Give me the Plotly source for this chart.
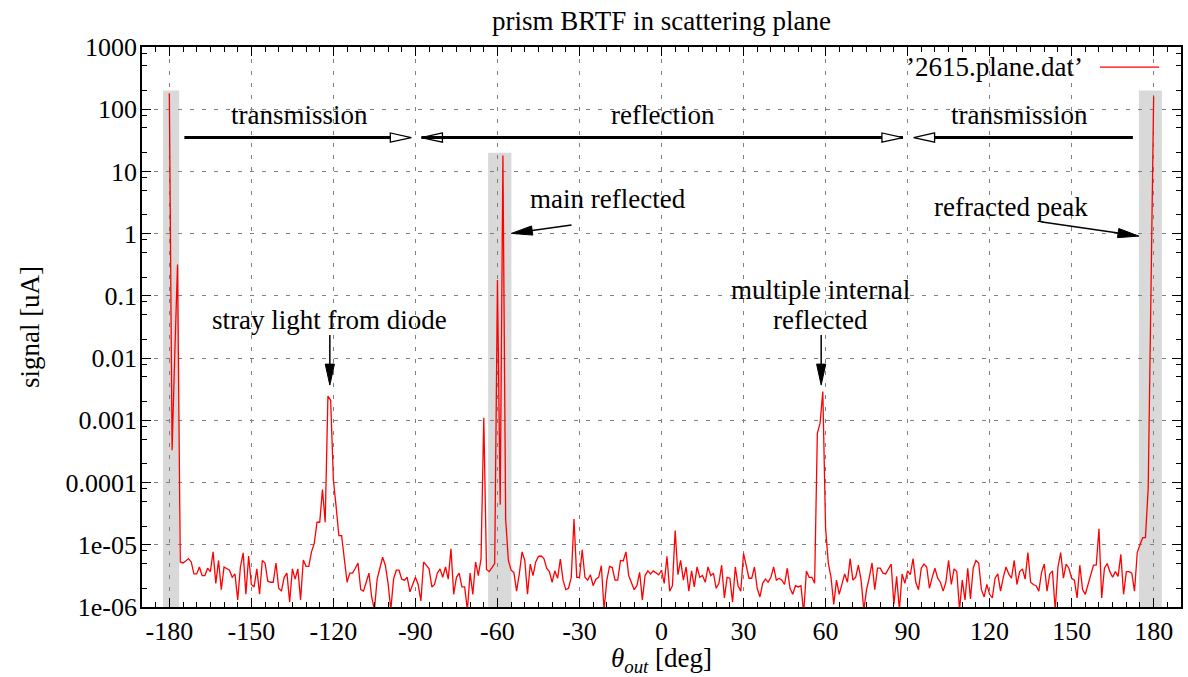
import math
import plotly.graph_objects as go

# ---------------- data ----------------
theta = list(range(-180, 181))  # measurement grid, 1 deg steps
signal = [
    180, 3.3e-4, 0.012, 0.32, 5.3e-6, 5.1e-6, 5.5e-6, 6.0e-6, 5.3e-6, 3.4e-6,            # -180..-171
    3.4e-6, 4.4e-6, 3.2e-6, 3.2e-6, 4.2e-6, 3.7e-6, 7.7e-6, 2.4e-6, 5.6e-6, 1.9e-6,      # -170..-161
    4.4e-6, 4.2e-6, 3.9e-6, 3.0e-6, 3.4e-6, 1.3e-6, 4.4e-6, 7.4e-6, 1.6e-6, 6.6e-6,      # -160..-151
    2.3e-6, 2.1e-6, 4.1e-6, 1.6e-6, 5.6e-6, 5.1e-6, 2.6e-6, 2.5e-6, 2.5e-6, 5.1e-6,      # -150..-141
    2.0e-6, 1.8e-6, 3.0e-6, 3.5e-6, 1.2e-6, 4.1e-6, 2.8e-6, 4.1e-6, 1.3e-6, 5.7e-6,      # -140..-131
    4.5e-6, 4.5e-6, 7.7e-6, 1.05e-5, 2.3e-5, 2.3e-5, 7.7e-5, 2.3e-5, 2.45e-3, 2.1e-3,    # -130..-121
    1.1e-4, 4.1e-5, 1.4e-5, 1.4e-5, 5.6e-6, 2.5e-6, 3.5e-6, 3.5e-6, 4.2e-6, 5.1e-6,      # -120..-111
    1.9e-6, 1.8e-6, 2.5e-6, 3.5e-6, 1.45e-6, 9e-7, 2.8e-6, 4.4e-6, 6.3e-6, 4.7e-6,       # -110..-101
    2.4e-6, 9e-7, 2.8e-6, 3.9e-6, 3.9e-6, 2.8e-6, 2.7e-6, 3.0e-6, 1.75e-6, 2.3e-6,       # -100..-91
    3.0e-6, 2.3e-6, 1.25e-6, 5.3e-6, 4.7e-6, 4.1e-6, 2.1e-6, 2.3e-6, 3.5e-6, 4.1e-6,     # -90..-81
    3.0e-6, 4.4e-6, 2.8e-6, 8.6e-6, 1.6e-6, 3.0e-6, 3.5e-6, 2.1e-6, 2.1e-6, 9e-7,        # -80..-71
    3.5e-6, 1.6e-6, 5.3e-6, 3.2e-6, 6e-6, 1.1e-3, 4e-6, 3.7e-6, 4.3e-6, 5e-6,            # -70..-61
    0.18, 4.4e-5, 18, 2.6e-5, 5.6e-6, 3.9e-6, 3.6e-6, 1.8e-6, 3.4e-6, 7.7e-6,            # -60..-51
    5.6e-6, 1.6e-6, 4.9e-6, 3.2e-6, 5.3e-6, 6.5e-6, 6.6e-6, 6.0e-6, 4.2e-6, 3.7e-6,      # -50..-41
    2.5e-6, 3.8e-6, 2.9e-6, 5.9e-6, 2.7e-6, 1.9e-6, 2.0e-6, 3.0e-6, 2.6e-5, 3.0e-6,      # -40..-31
    3.0e-6, 8.3e-6, 3.0e-6, 2.7e-6, 3.3e-6, 2.2e-6, 2.8e-6, 3.0e-6, 4.6e-6, 9e-7,        # -30..-21
    2.7e-6, 4.5e-6, 4.3e-6, 2.7e-6, 2.7e-6, 5.6e-6, 5.5e-6, 7.7e-6, 3.2e-6, 2.4e-6,      # -20..-11
    1.9e-6, 2.2e-6, 3.6e-6, 1.3e-6, 3.2e-6, 3.8e-6, 3.4e-6, 3.8e-6, 3.5e-6, 3.3e-6,      # -10..-1
    3.9e-6, 2.4e-6, 6.5e-6, 1.8e-6, 2.2e-6, 1.7e-5, 3.3e-6, 5.6e-6, 2.7e-6, 4.4e-6,      # 0..9
    1.8e-6, 3.8e-6, 2.1e-6, 4.4e-6, 3.0e-6, 3.2e-6, 2.5e-6, 4.4e-6, 3.2e-6, 3.5e-6,      # 10..19
    2.0e-6, 2.4e-6, 4.7e-6, 1.4e-6, 3.0e-6, 2.9e-6, 1.2e-6, 4.4e-6, 2.2e-6, 1.8e-6,      # 20..29
    7.3e-6, 4.4e-6, 2.9e-6, 2.9e-6, 4.4e-6, 2.0e-6, 1.45e-6, 2.4e-6, 2.8e-6, 2.5e-6,     # 30..39
    3.0e-6, 4.4e-6, 2.7e-6, 2.9e-6, 2.7e-6, 2.3e-6, 4.2e-6, 2.0e-6, 1.6e-6, 2.2e-6,      # 40..49
    2.1e-6, 2.2e-6, 8e-7, 3.8e-6, 3.0e-6, 3.0e-6, 2.4e-6, 6.2e-4, 9e-4, 2.9e-3,          # 50..59
    1.9e-5, 5.1e-6, 3.0e-6, 1.1e-6, 2.7e-6, 1.6e-6, 2.4e-6, 3.4e-6, 2.5e-6, 6.0e-6,      # 60..69
    2.7e-6, 3.0e-6, 4.7e-6, 2.7e-6, 9e-7, 1.9e-6, 3.0e-6, 5.1e-6, 1.9e-6, 4.2e-6,        # 70..79
    4.2e-6, 3.5e-6, 3.4e-6, 4.2e-6, 4.9e-6, 1.1e-6, 3.1e-6, 9e-7, 3.4e-6, 2.4e-6,        # 80..89
    3.8e-6, 3.3e-6, 6.0e-6, 2.5e-6, 1.9e-6, 4.2e-6, 4.9e-6, 4.4e-6, 2.0e-6, 3.0e-6,      # 90..99
    4.2e-6, 2.9e-6, 2.5e-6, 1.8e-6, 2.5e-6, 5.6e-6, 2.3e-6, 4.1e-6, 3.7e-6, 9e-7,        # 100..109
    2.7e-6, 1.3e-6, 4.2e-6, 1.35e-6, 4.2e-6, 5.6e-6, 5.1e-6, 1.9e-6, 1.45e-6, 2.3e-6,    # 110..119
    1.6e-6, 1.4e-6, 2.9e-6, 3.4e-6, 1.8e-6, 3.0e-6, 4.4e-6, 3.4e-6, 2.9e-6, 5.6e-6,      # 120..129
    2.3e-6, 3.7e-6, 4.1e-6, 2.8e-6, 7.5e-6, 2.5e-6, 2.3e-6, 2.2e-6, 1.8e-6, 3.6e-6,      # 130..139
    4.9e-6, 1.8e-6, 3.4e-6, 3.8e-6, 9e-7, 4.4e-6, 7.5e-6, 2.9e-6, 4.9e-6, 4.2e-6,        # 140..149
    2.9e-6, 2.7e-6, 1.4e-6, 4.7e-6, 1.9e-6, 1.6e-6, 2.3e-6, 3.0e-6, 4.7e-6, 4.7e-6,      # 150..159
    1.8e-5, 1.4e-6, 4.2e-6, 5.0e-6, 3.7e-6, 3.0e-6, 3.7e-6, 3.1e-6, 7.0e-6, 1.6e-6,      # 160..169
    3.7e-6, 3.7e-6, 3.5e-6, 1.8e-6, 7.5e-6, 1.0e-5, 1.3e-5, 1.3e-5, 8e-5, 0.1,           # 170..179
    160,                                                                                 # 180
]
assert len(signal) == len(theta)

series_name = "\u20192615.plane.dat\u2019"
x_tick_vals = [-180, -150, -120, -90, -60, -30, 0, 30, 60, 90, 120, 150, 180]
x_tick_text = ["-180", "-150", "-120", "-90", "-60", "-30", "0", "30", "60", "90", "120", "150", "180"]
y_tick_vals = [1e-6, 1e-5, 1e-4, 1e-3, 1e-2, 1e-1, 1, 10, 100, 1000]
y_tick_text = ["1e-06", "1e-05", "0.0001", "0.001", "0.01", "0.1", "1", "10", "100", "1000"]
y_minor_vals = [m * 10.0 ** k for k in range(-6, 3) for m in (2, 5, 8)]

# highlighted angular bands
band_x0 = [-182.3, -63.4, 174.6]
band_x1 = [-176.4, -54.9, 183.0]
band_top = [200, 20, 200]

# region labels + open arrows
region_labels = ["transmission", "reflection", "transmission"]
region_label_x = [-132.4, 0.5, 130.8]
region_label_y = 80.7
region_arrow_y = 35
# (tail, tip) pairs for open-headed arrows
open_arrows = [(-174.5, -91.5), (88.3, -87.8), (-87.8, 88.3), (172.4, 92.2)]

# peak annotations
note_texts = ["main reflected", "refracted peak", "stray light from diode", "multiple internal", "reflected"]
note_x = [-19.4, 127.7, -121.4, 58.0, 58.0]
note_y = [3.6, 2.71, 0.0408, 0.124, 0.0408]
note_tail_x = [-32.9, 138.6, -121.3, 58.4]
note_tail_y = [1.374, 1.552, 0.02344, 0.02344]
note_tip_x = [-54.9, 174.6, -121.3, 58.4]
note_tip_y = [1.01, 0.914, 0.003681, 0.003681]

# ---------------- layout geometry ----------------
W, H = 1188, 677
ML, MR, MT, MB = 142, 7, 47, 70
PW, PH = W - ML - MR, H - MT - MB
X0, X1 = -190, 190
LY0, LY1 = -6, 3
FONT = "Liberation Serif"
FS = 26      # tick labels
FS_T = 27    # title, annotations, axis titles


def to_px(x, y):
    return (ML + (x - X0) / (X1 - X0) * PW,
            MT + (LY1 - math.log10(y)) / (LY1 - LY0) * PH)


def to_data(px, py):
    return (X0 + (px - ML) / PW * (X1 - X0),
            10 ** (LY1 - (py - MT) / PH * (LY1 - LY0)))


def head_path(tail, tip, length=21, half=4.6):
    tx, ty = to_px(*tail)
    hx, hy = to_px(*tip)
    d = math.hypot(hx - tx, hy - ty)
    ux, uy = (hx - tx) / d, (hy - ty) / d
    bx, by = hx - ux * length, hy - uy * length
    nx, ny = -uy, ux
    p1 = to_data(bx + nx * half, by + ny * half)
    p2 = to_data(bx - nx * half, by - ny * half)
    base = to_data(bx, by)
    path = "M {:.6f},{:.10f} L {:.6f},{:.10f} L {:.6f},{:.10f} Z".format(
        p1[0], p1[1], tip[0], tip[1], p2[0], p2[1])
    return path, base


fig = go.Figure()
fig.add_trace(go.Scatter(
    x=theta, y=signal, mode="lines", name=series_name,
    line=dict(color="#ff0000", width=1.3), showlegend=False,
))

shapes = []
for a, b, top in zip(band_x0, band_x1, band_top):
    shapes.append(dict(type="rect", xref="x", yref="y", x0=a, x1=b, y0=1e-6, y1=top,
                       fillcolor="#d9d9d9", line=dict(width=0), layer="below"))

# open-headed region arrows
for tail_x, tip_x in open_arrows:
    path, base = head_path((tail_x, region_arrow_y), (tip_x, region_arrow_y))
    shapes.append(dict(type="path", xref="x", yref="y", path=path,
                       fillcolor="white", line=dict(color="black", width=1.3), layer="above"))
    shapes.append(dict(type="line", xref="x", yref="y", x0=tail_x, x1=base[0],
                       y0=region_arrow_y, y1=region_arrow_y,
                       line=dict(color="black", width=3), layer="above"))

# filled annotation arrows
for tx, ty, hx, hy in zip(note_tail_x, note_tail_y, note_tip_x, note_tip_y):
    path, base = head_path((tx, ty), (hx, hy))
    shapes.append(dict(type="path", xref="x", yref="y", path=path,
                       fillcolor="black", line=dict(color="black", width=1), layer="above"))
    shapes.append(dict(type="line", xref="x", yref="y", x0=tx, y0=ty, x1=base[0], y1=base[1],
                       line=dict(color="black", width=1.5), layer="above"))

# legend sample line (key drawn after its text, gnuplot style)
shapes.append(dict(type="line", xref="paper", yref="paper", x0=0.922, x1=0.979, y0=0.964, y1=0.964,
                   line=dict(color="#ff0000", width=1.3)))

annotations = []
for t, x in zip(region_labels, region_label_x):
    annotations.append(dict(text=t, x=x, y=math.log10(region_label_y), xref="x", yref="y",
                            showarrow=False, font=dict(family=FONT, size=FS_T, color="black")))
for t, x, y in zip(note_texts, note_x, note_y):
    annotations.append(dict(text=t, x=x, y=math.log10(y), xref="x", yref="y",
                            showarrow=False, font=dict(family=FONT, size=FS_T, color="black")))
annotations.append(dict(text=series_name, x=0.908, y=0.964, xref="paper", yref="paper",
                        xanchor="right", yanchor="middle", showarrow=False,
                        font=dict(family=FONT, size=FS_T, color="black")))

axis_common = dict(
    showline=True, linecolor="black", linewidth=1.6, mirror="ticks",
    ticks="inside", tickcolor="black", tickwidth=1.2, ticklen=9,
    showgrid=True, gridcolor="#808080", gridwidth=1, griddash="4px,8px",
    zeroline=False, automargin=False,
    tickfont=dict(family=FONT, size=FS, color="black"),
)

fig.update_layout(
    width=W, height=H,
    margin=dict(l=ML, r=MR, t=MT, b=MB, autoexpand=False),
    paper_bgcolor="white", plot_bgcolor="white",
    font=dict(family=FONT, size=FS, color="black"),
    title=dict(text="prism BRTF in scattering plane", x=0.5, xref="paper",
               y=0.970, yref="container", xanchor="center", yanchor="middle",
               font=dict(family=FONT, size=FS_T, color="black")),
    xaxis=dict(axis_common, range=[X0, X1], tickmode="array", tickvals=x_tick_vals,
               ticktext=x_tick_text, ticklabelstandoff=0,
               minor=dict(tickmode="linear", tick0=0, dtick=5, ticks="inside", ticklen=5,
                          tickcolor="black", tickwidth=1, showgrid=False),
               title=dict(text="<i>\u03b8</i><sub><i>out</i></sub> [deg]", standoff=12,
                          font=dict(family=FONT, size=FS_T, color="black"))),
    yaxis=dict(axis_common, type="log", range=[LY0, LY1], tickmode="array",
               tickvals=y_tick_vals, ticktext=y_tick_text, ticklabelstandoff=-2,
               minor=dict(tickmode="array", tickvals=y_minor_vals, ticks="inside", ticklen=5,
                          tickcolor="black", tickwidth=1, showgrid=False),
               title=dict(text="signal [uA]", standoff=18,
                          font=dict(family=FONT, size=FS_T, color="black"))),
    shapes=shapes,
    annotations=annotations,
    showlegend=False,
)

fig.write_html("out.html")
